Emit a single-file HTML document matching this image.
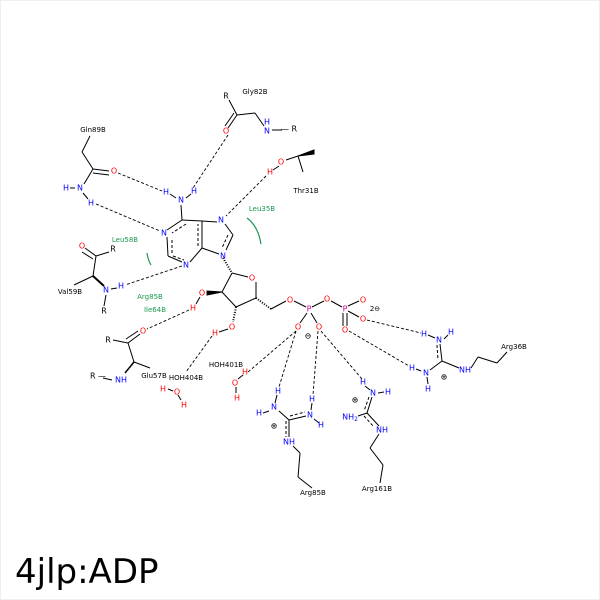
<!DOCTYPE html>
<html><head><style>body{margin:0;background:#fff}svg{display:block}</style></head><body>
<svg width="600" height="600" viewBox="0 0 600 600" xmlns="http://www.w3.org/2000/svg" font-family="DejaVu Sans, Liberation Sans, sans-serif">
<rect x="0.5" y="0.5" width="599" height="599" fill="#fff" stroke="#eee"/>
<g stroke="#000" stroke-width="1" fill="none">
<line x1="181" y1="205" x2="182" y2="220"/>
<line x1="176" y1="198" x2="170" y2="194"/><line x1="186" y1="198" x2="191" y2="194"/>
<line x1="182" y1="220" x2="167" y2="230"/><line x1="167" y1="237" x2="168" y2="256"/>
<line x1="168" y1="256" x2="182" y2="262"/><line x1="190" y1="262" x2="202" y2="248"/>
<line x1="202" y1="248" x2="202" y2="221"/><line x1="202" y1="221" x2="182" y2="220"/>
<line x1="202" y1="221" x2="217" y2="222"/><line x1="225" y1="224" x2="233" y2="235"/>
<line x1="233" y1="235" x2="226" y2="250"/><line x1="219" y1="254" x2="202" y2="248"/>
<g stroke-dasharray="3,2"><line x1="186" y1="224" x2="172" y2="233"/><line x1="172" y1="240" x2="172" y2="254"/><line x1="173" y1="256" x2="184" y2="260"/><line x1="198" y1="246" x2="198" y2="224"/><line x1="228" y1="235" x2="222" y2="248"/></g>
<line x1="223" y1="258" x2="232" y2="273" stroke-dasharray="1,1.5" stroke-width="2"/>
<line x1="232" y1="273" x2="248" y2="277"/><line x1="256" y1="282" x2="256" y2="298"/>
<line x1="256" y1="298" x2="236" y2="307"/><line x1="236" y1="307" x2="222" y2="292"/><line x1="222" y1="292" x2="232" y2="273"/>
<polygon points="222,292 207,291 207,295" fill="#000"/>
<line x1="200" y1="297" x2="196" y2="304"/>
<line x1="236" y1="307" x2="233" y2="322" stroke-dasharray="1,1.5" stroke-width="2"/>
<line x1="228" y1="329" x2="219" y2="332"/>
<line x1="256" y1="298" x2="271" y2="309" stroke-dasharray="1,1.5" stroke-width="2"/>
<line x1="271" y1="309" x2="286" y2="301"/>
<line x1="294" y1="301" x2="306" y2="307"/><line x1="312" y1="307" x2="324" y2="301"/>
<line x1="331" y1="301" x2="342" y2="307"/><line x1="348" y1="306" x2="359" y2="301"/><line x1="348" y1="311" x2="359" y2="317"/>
<line x1="343" y1="313" x2="343" y2="326"/><line x1="347" y1="313" x2="347" y2="326"/>
<line x1="307" y1="313" x2="300" y2="323"/><line x1="311" y1="313" x2="317" y2="323"/>
<line x1="229" y1="100" x2="237" y2="115"/><line x1="237" y1="115" x2="228" y2="128"/><line x1="234" y1="113" x2="225" y2="126"/>
<line x1="237" y1="115" x2="255" y2="113"/><line x1="255" y1="113" x2="264" y2="126"/><line x1="272" y1="130" x2="282" y2="130"/>
<line x1="90" y1="136" x2="82" y2="152"/><line x1="82" y1="152" x2="93" y2="169"/>
<line x1="93" y1="169" x2="109" y2="171"/><line x1="93" y1="173" x2="109" y2="175"/>
<line x1="93" y1="169" x2="84" y2="184"/><line x1="70" y1="188" x2="75" y2="188"/>
<line x1="83" y1="193" x2="88" y2="199"/>
<line x1="286" y1="160" x2="298" y2="156"/><line x1="298" y1="156" x2="303" y2="172"/>
<line x1="279" y1="166" x2="273" y2="170"/>
<polygon points="298,156 314,150 314,154" fill="#000"/>
<line x1="85" y1="248" x2="96" y2="256"/><line x1="82" y1="252" x2="93" y2="259"/>
<line x1="96" y1="256" x2="109" y2="252"/><line x1="96" y1="256" x2="93" y2="276"/>
<line x1="93" y1="276" x2="74" y2="285"/><line x1="93" y1="276" x2="104" y2="286" stroke-width="2"/>
<line x1="106" y1="295" x2="104" y2="306"/><line x1="111" y1="289" x2="117" y2="288"/>
<line x1="113" y1="340" x2="128" y2="343"/><line x1="128" y1="343" x2="140" y2="334"/><line x1="126" y1="339" x2="138" y2="331"/>
<line x1="128" y1="343" x2="134" y2="362"/><line x1="134" y1="362" x2="150" y2="368"/><line x1="134" y1="362" x2="125" y2="373" stroke-width="1.5"/>
<line x1="103" y1="378" x2="112" y2="380"/>
<line x1="168" y1="389" x2="173" y2="391"/><line x1="178" y1="395" x2="181" y2="400"/>
<line x1="236" y1="387" x2="236" y2="393"/><line x1="238" y1="379" x2="243" y2="375"/>
<line x1="277" y1="395" x2="275" y2="403"/><line x1="263" y1="413" x2="269" y2="411"/>
<line x1="279" y1="411" x2="289" y2="420"/><line x1="289" y1="420" x2="306" y2="416"/><line x1="290" y1="416" x2="305" y2="412" stroke-dasharray="3,2"/>
<line x1="312" y1="403" x2="311" y2="410"/><line x1="314" y1="419" x2="319" y2="423"/>
<line x1="289" y1="420" x2="289" y2="437"/><line x1="286" y1="421" x2="286" y2="437" stroke-dasharray="3,2"/>
<line x1="293" y1="446" x2="300" y2="453"/><line x1="300" y1="453" x2="298" y2="477"/><line x1="298" y1="477" x2="312" y2="488"/>
<line x1="365" y1="386" x2="370" y2="390"/><line x1="378" y1="393" x2="384" y2="392"/>
<line x1="372" y1="397" x2="367" y2="413"/><line x1="369" y1="397" x2="364" y2="411" stroke-dasharray="3,2"/>
<line x1="367" y1="413" x2="358" y2="416"/><line x1="367" y1="413" x2="379" y2="426"/><line x1="364" y1="416" x2="374" y2="427" stroke-dasharray="3,2"/>
<line x1="379" y1="434" x2="370" y2="448"/><line x1="370" y1="448" x2="383" y2="465"/><line x1="383" y1="465" x2="380" y2="483"/>
<line x1="428" y1="335" x2="435" y2="338"/><line x1="444" y1="339" x2="448" y2="335"/>
<line x1="440" y1="344" x2="442" y2="361"/><line x1="437" y1="345" x2="438" y2="360" stroke-dasharray="3,2"/>
<line x1="442" y1="361" x2="430" y2="370"/><line x1="442" y1="361" x2="459" y2="368"/>
<line x1="416" y1="369" x2="421" y2="371"/><line x1="427" y1="377" x2="428" y2="384"/>
<line x1="471" y1="368" x2="478" y2="357"/><line x1="478" y1="357" x2="497" y2="363"/><line x1="497" y1="363" x2="507" y2="352"/>
</g>
<g stroke="#000" stroke-width="0.9" stroke-dasharray="3,2" fill="none">
<line x1="118" y1="173" x2="162" y2="191"/>
<line x1="96" y1="204" x2="160" y2="231"/>
<line x1="228" y1="135" x2="193" y2="188"/>
<line x1="266" y1="176" x2="226" y2="216"/>
<line x1="182" y1="266" x2="125" y2="285"/>
<line x1="189" y1="310" x2="147" y2="329"/>
<line x1="212" y1="336" x2="186" y2="372"/>
<line x1="296" y1="331" x2="248" y2="372"/>
<line x1="296" y1="331" x2="279" y2="387"/>
<line x1="318" y1="331" x2="313" y2="395"/>
<line x1="321" y1="331" x2="362" y2="379"/>
<line x1="367" y1="320" x2="421" y2="333"/>
<line x1="349" y1="331" x2="409" y2="366"/>
</g>
<g stroke="#1a9850" stroke-width="1.2" fill="none">
<path d="M247 218 Q258 226 261 244"/>
<path d="M147 253 Q148 260 151 265"/>
</g>
<g font-size="8" text-anchor="middle" dominant-baseline="central">
<g fill="#00f">
<text x="181" y="200">N</text><text x="166" y="192">H</text><text x="194" y="191">H</text>
<text x="164" y="233">N</text><text x="186" y="265">N</text><text x="221" y="220">N</text><text x="223" y="256">N</text>
<text x="267" y="122">H</text><text x="267" y="131">N</text>
<text x="66" y="188">H</text><text x="80" y="188">N</text><text x="91" y="203">H</text>
<text x="106" y="290">N</text><text x="121" y="286">H</text>
<text x="121" y="380">NH</text>
<text x="278" y="391">H</text><text x="274" y="407">N</text><text x="259" y="413">H</text><text x="310" y="415">N</text><text x="312" y="399">H</text><text x="321" y="425">H</text><text x="289" y="442">NH</text>
<text x="363" y="382">H</text><text x="373" y="393">N</text><text x="388" y="392">H</text><text x="350" y="417">NH<tspan font-size="6" dy="2">2</tspan></text><text x="382" y="430">NH</text>
<text x="424" y="334">H</text><text x="439" y="340">N</text><text x="451" y="332">H</text><text x="426" y="373">N</text><text x="412" y="368">H</text><text x="428" y="389">H</text><text x="465" y="370">NH</text>
</g>
<g fill="#f00">
<text x="226" y="131">O</text><text x="114" y="171">O</text><text x="281" y="162">O</text><text x="270" y="172">H</text>
<text x="82" y="246">O</text><text x="143" y="331">O</text>
<text x="252" y="278">O</text><text x="202" y="293">O</text><text x="193" y="308">H</text><text x="232" y="327">O</text><text x="215" y="333">H</text>
<text x="290" y="300">O</text><text x="327" y="299">O</text><text x="363" y="300">O</text><text x="363" y="319">O</text><text x="345" y="330">O</text>
<text x="298" y="327">O</text><text x="319" y="327">O</text>
<text x="163" y="389">H</text><text x="177" y="392">O</text><text x="184" y="405">H</text>
<text x="245" y="372">H</text><text x="235" y="383">O</text><text x="237" y="398">H</text>
</g>
<g fill="#d0008f"><text x="309" y="309">P</text><text x="345" y="309">P</text></g>
<g fill="#000">
<text x="226" y="96">R</text><text x="289" y="129">— R</text><text x="113" y="249">R</text><text x="104" y="311">R</text>
<text x="108" y="340">R</text><text x="98" y="376">R —</text>
<text x="375" y="309" font-size="7">2⊖</text><text x="308" y="336">⊖</text>
<text x="274" y="426">⊕</text><text x="355" y="400">⊕</text><text x="444" y="377">⊕</text>
</g>
<g font-size="7" fill="#000">
<text x="255" y="92">Gly82B</text><text x="93" y="130">Gln89B</text><text x="306" y="191">Thr31B</text>
<text x="70" y="292">Val59B</text><text x="154" y="376">Glu57B</text><text x="186" y="378">HOH404B</text><text x="226" y="365">HOH401B</text>
<text x="313" y="493">Arg85B</text><text x="377" y="489">Arg161B</text><text x="514" y="347">Arg36B</text>
</g>
<g font-size="7" fill="#1a9850">
<text x="262" y="209">Leu35B</text><text x="125" y="240">Leu58B</text><text x="150" y="297">Arg85B</text><text x="155" y="310">Ile64B</text>
</g>
</g>
<text x="15" y="583" font-size="34" font-family="DejaVu Sans, sans-serif" fill="#000">4jlp:ADP</text>
</svg>
</body></html>
